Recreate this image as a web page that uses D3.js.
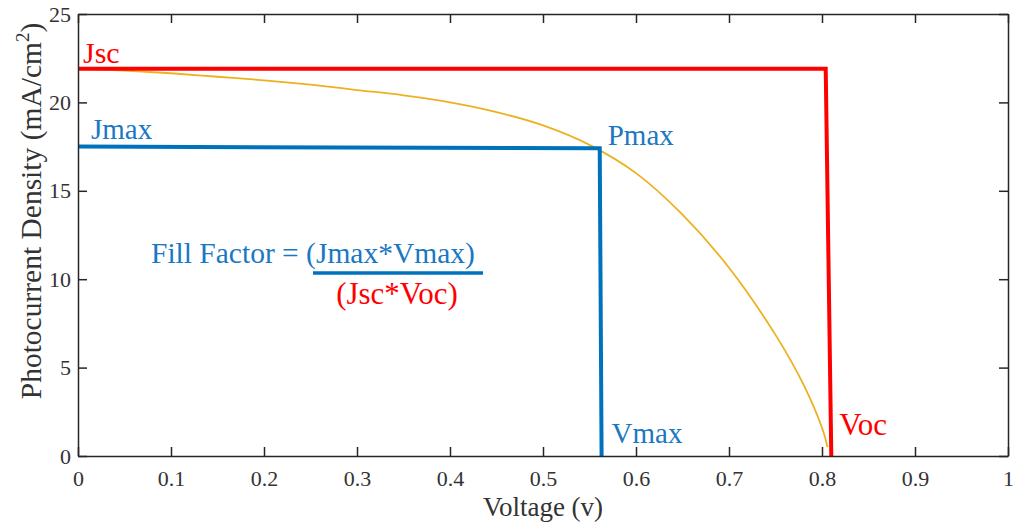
<!DOCTYPE html>
<html>
<head>
<meta charset="utf-8">
<script src="https://cdn.jsdelivr.net/npm/d3@7"></script>
<style>
  html, body { margin: 0; padding: 0; background: #fff; }
  svg { display: block; font-family: "Liberation Serif", "Times New Roman", serif; }
</style>
</head>
<body>
<svg id="chart" width="1014" height="522"></svg>
<script>
// J–V characteristic of the solar cell (voltage in V, current density in mA/cm²)
const ivVoltage = [0, 0.05, 0.1, 0.15, 0.2, 0.25, 0.3, 0.35, 0.4, 0.45, 0.5, 0.55, 0.6, 0.65, 0.7, 0.75, 0.78, 0.8, 0.806];
const ivCurrent = [21.9, 21.8, 21.65, 21.45, 21.25, 21.0, 20.7, 20.4, 20.0, 19.45, 18.7, 17.6, 16.0, 13.65, 10.65, 6.85, 4.05, 1.6, 0.5];

// Jsc / Voc rectangle
const scVoltage = [0, 0.804, 0.81];
const scCurrent = [21.9, 21.9, 0];

// Jmax / Vmax rectangle
const mpVoltage = [0, 0.561, 0.563];
const mpCurrent = [17.5, 17.4, 0];

// Axis ticks
const xTicks = [0, 0.1, 0.2, 0.3, 0.4, 0.5, 0.6, 0.7, 0.8, 0.9, 1];
const xTickLabels = ["0", "0.1", "0.2", "0.3", "0.4", "0.5", "0.6", "0.7", "0.8", "0.9", "1"];
const yTicks = [0, 5, 10, 15, 20, 25];
const yTickLabels = ["0", "5", "10", "15", "20", "25"];

const RED = "#ff0000";
const BLUE = "#0072bd";
const BLUE_TEXT = "#1a78c2";
const ORANGE = "#edb120";
const AXIS = "#262626";

const svg = d3.select("#chart");
const plotLeft = 78, plotRight = 1008, plotTop = 14, plotBottom = 456;

const x = d3.scaleLinear().domain([0, 1]).range([plotLeft, plotRight]);
const y = d3.scaleLinear().domain([0, 25]).range([plotBottom, plotTop]);

const toPoints = (vs, js) => vs.map((v, i) => [v, js[i]]);
const line = d3.line().x(d => x(d[0])).y(d => y(d[1]));

// Curves
svg.append("path")
  .datum(toPoints(ivVoltage, ivCurrent))
  .attr("fill", "none")
  .attr("stroke", ORANGE)
  .attr("stroke-width", 1.8)
  .attr("d", d3.line().x(d => x(d[0])).y(d => y(d[1])).curve(d3.curveCatmullRom.alpha(0.5)));

svg.append("path")
  .datum(toPoints(scVoltage, scCurrent))
  .attr("fill", "none")
  .attr("stroke", RED)
  .attr("stroke-width", 4)
  .attr("d", line);

svg.append("path")
  .datum(toPoints(mpVoltage, mpCurrent))
  .attr("fill", "none")
  .attr("stroke", BLUE)
  .attr("stroke-width", 4)
  .attr("d", line);

// Axes box with inward ticks
const axisG = svg.append("g").attr("font-size", 22).attr("fill", "#333");
const tickLen = 9;

const xAxisB = d3.axisBottom(x).tickValues(xTicks).tickSizeInner(-tickLen).tickSizeOuter(0)
  .tickPadding(14).tickFormat((d, i) => xTickLabels[i]);
const xAxisT = d3.axisTop(x).tickValues(xTicks).tickSizeInner(-tickLen).tickSizeOuter(0).tickFormat("");
const yAxisL = d3.axisLeft(y).tickValues(yTicks).tickSizeInner(-tickLen).tickSizeOuter(0)
  .tickPadding(7).tickFormat((d, i) => yTickLabels[i]);
const yAxisR = d3.axisRight(y).tickValues(yTicks).tickSizeInner(-tickLen).tickSizeOuter(0).tickFormat("");

function styleAxis(g) {
  g.attr("font-family", null).attr("font-size", null);
  g.select(".domain").attr("stroke", AXIS).attr("stroke-width", 1.5);
  g.selectAll(".tick line").attr("stroke", AXIS).attr("stroke-width", 1.5);
  g.selectAll(".tick text").attr("fill", "#333");
}

axisG.append("g").attr("transform", `translate(0,${plotBottom})`).call(xAxisB).call(styleAxis);
axisG.append("g").attr("transform", `translate(0,${plotTop})`).call(xAxisT).call(styleAxis);
axisG.append("g").attr("transform", `translate(${plotLeft},0)`).call(yAxisL).call(styleAxis);
axisG.append("g").attr("transform", `translate(${plotRight},0)`).call(yAxisR).call(styleAxis);

// Axis titles
svg.append("text")
  .attr("x", (plotLeft + plotRight) / 2)
  .attr("y", 516)
  .attr("text-anchor", "middle")
  .attr("font-size", 27)
  .attr("fill", "#333")
  .text("Voltage (v)");

const yTitle = svg.append("text")
  .attr("transform", "translate(41,211) rotate(-90)")
  .attr("text-anchor", "middle")
  .attr("font-size", 29.5)
  .attr("fill", "#333");
yTitle.append("tspan").text("Photocurrent Density (mA/cm");
yTitle.append("tspan").attr("font-size", 19).attr("dy", -12).text("2");
yTitle.append("tspan").attr("dy", 12).text(")");

// Point labels
function label(txt, px, py, color, size) {
  svg.append("text").attr("x", px).attr("y", py)
    .attr("font-size", size).attr("fill", color).text(txt);
}
label("Jsc", x(0) + 5, y(scCurrent[0]) - 6, RED, 30);
label("Jmax", x(0) + 13, y(mpCurrent[0]) - 8, BLUE_TEXT, 29);
label("Pmax", x(mpVoltage[1]) + 8, y(mpCurrent[1]) - 3, BLUE_TEXT, 29);
label("Vmax", x(mpVoltage[2]) + 10, y(0) - 13, BLUE_TEXT, 29);
label("Voc", x(scVoltage[2]) + 8, y(0) - 21, RED, 31);

// Fill factor formula
svg.append("text").attr("x", 151).attr("y", 263)
  .attr("font-size", 29.5).attr("fill", BLUE_TEXT)
  .text("Fill Factor = (Jmax*Vmax)");
svg.append("line")
  .attr("x1", 313).attr("x2", 483).attr("y1", 273).attr("y2", 273)
  .attr("stroke", BLUE).attr("stroke-width", 3.5);
svg.append("text").attr("x", 397).attr("y", 304)
  .attr("text-anchor", "middle")
  .attr("font-size", 31).attr("fill", RED)
  .text("(Jsc*Voc)");
</script>
</body>
</html>
